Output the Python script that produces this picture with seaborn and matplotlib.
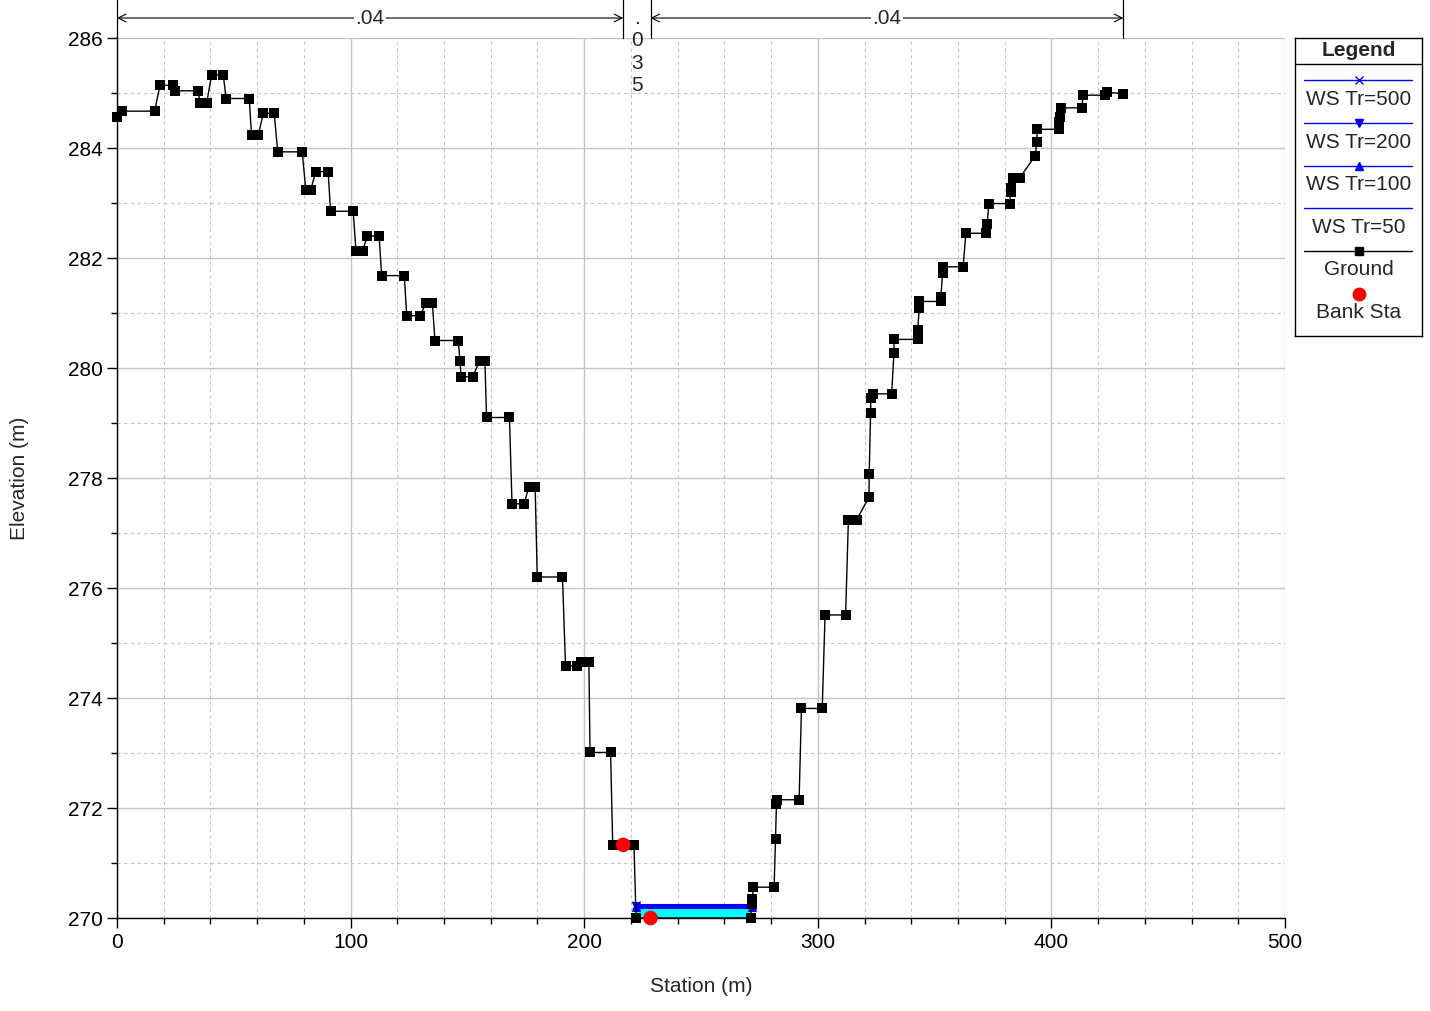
import numpy as np
import matplotlib
matplotlib.use("Agg")
import matplotlib.pyplot as plt
import seaborn as sns
from matplotlib.ticker import MultipleLocator

# ground survey points (station m, elevation m)
GROUND_STA = [0.0, 2.0, 16.1, 18.4, 23.8, 24.9, 34.8, 35.5, 38.4, 40.5, 45.5, 46.7,
              56.6, 57.6, 60.5, 62.6, 67.3, 68.8, 79.3, 80.8, 82.9, 85.1, 90.4, 91.4,
              101.1, 102.3, 105.1, 107.2, 112.2, 113.3, 123.0, 124.0, 129.7, 132.3, 135.0,
              136.1, 146.1, 146.8, 147.3, 152.3, 155.2, 157.5, 158.2, 168.0, 169.1, 174.3,
              176.3, 179.0, 179.9, 190.7, 192.0, 196.8, 198.6, 202.0, 202.5, 211.3, 212.2,
              216.7, 221.3, 222.2, 228.4, 271.2, 271.9, 272.0, 272.4, 281.3, 281.9, 282.3,
              282.4, 292.0, 293.0, 301.9, 303.1, 311.9, 313.1, 316.6, 321.9, 322.0, 322.6,
              322.7, 323.7, 331.6, 332.6, 332.7, 342.7, 342.8, 343.4, 343.5, 352.6, 352.7,
              353.4, 353.5, 362.2, 363.4, 372.2, 372.5, 373.2, 382.2, 382.5, 382.6, 383.5,
              386.5, 393.1, 393.7, 393.9, 403.1, 403.4, 403.7, 404.1, 412.9, 413.7, 423.0,
              424.0, 430.8]
GROUND_ELEV = [284.56, 284.67, 284.67, 285.14, 285.14, 285.04, 285.04, 284.82, 284.82,
               285.33, 285.33, 284.90, 284.90, 284.23, 284.23, 284.63, 284.63, 283.93,
               283.93, 283.24, 283.24, 283.57, 283.57, 282.85, 282.85, 282.13, 282.13,
               282.40, 282.40, 281.68, 281.68, 280.95, 280.95, 281.18, 281.18, 280.50,
               280.50, 280.13, 279.84, 279.84, 280.13, 280.13, 279.10, 279.10, 277.53,
               277.53, 277.84, 277.84, 276.20, 276.20, 274.58, 274.58, 274.65, 274.65,
               273.01, 273.01, 271.33, 271.33, 271.33, 270.00, 270.00, 270.00, 270.25,
               270.34, 270.56, 270.56, 271.44, 272.07, 272.15, 272.15, 273.81, 273.81,
               275.51, 275.51, 277.24, 277.24, 277.65, 278.07, 279.19, 279.45, 279.53,
               279.53, 280.27, 280.52, 280.52, 280.69, 281.09, 281.21, 281.21, 281.30,
               281.72, 281.84, 281.84, 282.45, 282.45, 282.62, 282.99, 282.99, 283.20,
               283.27, 283.46, 283.46, 283.86, 284.10, 284.34, 284.34, 284.48, 284.57,
               284.73, 284.73, 284.96, 284.96, 285.01, 284.99]

BANK_STA = [216.7, 228.4]
BANK_ELEV = [271.33, 270.00]

WS_LABELS = ["WS Tr=500", "WS Tr=200", "WS Tr=100", "WS Tr=50"]
WS_ELEV = [270.23, 270.21, 270.20, 270.18]
WS_MARKERS = ["x", "v", "^", None]
WS_STA = [222.1, 271.8]

N_VALUES = [".04", ".035", ".04"]
N_BREAKS = [0.0, 216.7, 228.4, 430.8]

sns.set_style("white")
plt.rcParams["font.family"] = ["Liberation Sans", "DejaVu Sans"]
FS = 15

W, H = 1430, 1011
fig = plt.figure(figsize=(W / 100, H / 100), dpi=100)
ax = fig.add_axes([117 / W, 1 - 918 / H, 1168 / W, 880 / H])

blue = "#0000ff"

# water fill below lowest profile
g_sta = np.array(GROUND_STA)
g_elev = np.array(GROUND_ELEV)
ax.fill_between(g_sta, g_elev, WS_ELEV[-1], where=g_elev < WS_ELEV[-1],
                interpolate=True, color="#00ffff", lw=0, zorder=2)

for lab, z, m in zip(WS_LABELS, WS_ELEV, WS_MARKERS):
    sns.lineplot(x=WS_STA, y=[z, z], ax=ax, color=blue, lw=1.5, marker=m,
                 markersize=6, markeredgecolor=blue, estimator=None, sort=False,
                 zorder=3, clip_on=False)

sns.lineplot(x=GROUND_STA, y=GROUND_ELEV, ax=ax, color="black", lw=1, marker="s",
             markersize=7, markeredgewidth=0, estimator=None, sort=False,
             zorder=4, clip_on=False)

sns.scatterplot(x=BANK_STA, y=BANK_ELEV, ax=ax, color="red", s=110,
                edgecolor="none", zorder=5, clip_on=False)

ax.set_xlim(0, 500)
ax.set_ylim(270, 286)
ax.xaxis.set_major_locator(MultipleLocator(100))
ax.xaxis.set_minor_locator(MultipleLocator(20))
ax.yaxis.set_major_locator(MultipleLocator(2))
ax.yaxis.set_minor_locator(MultipleLocator(1))
ax.grid(which="major", color="#c4c4c4", lw=1, ls="-")
ax.grid(which="minor", color="#c4c4c4", lw=0.8, ls=(0, (3, 3)))
ax.set_axisbelow(True)
for s in ["top", "right"]:
    ax.spines[s].set_visible(False)
for s in ["left", "bottom"]:
    ax.spines[s].set_color("black")
    ax.spines[s].set_linewidth(1)
ax.tick_params(which="major", direction="out", length=7, width=1, colors="black",
               labelsize=FS, left=True, bottom=True)
ax.tick_params(which="minor", direction="out", length=4, width=1, colors="black",
               left=True, bottom=True)
ax.set_xlabel("Station (m)", fontsize=FS, labelpad=18)
ax.set_ylabel("Elevation (m)", fontsize=FS, labelpad=28)

# Manning's n ranges above the plot
trans = ax.get_xaxis_transform()
y_arr = 1 + 20 / 880
y_top = 1 + 38 / 880
for b in N_BREAKS:
    ax.plot([b, b], [1, y_top], transform=trans, color="black", lw=0.9, clip_on=False)
for i, val in enumerate(N_VALUES):
    a, b = N_BREAKS[i], N_BREAKS[i + 1]
    mid = (a + b) / 2
    if b - a > 50:
        ax.annotate("", xy=(a, y_arr), xytext=(b, y_arr), xycoords=trans,
                    textcoords=trans, annotation_clip=False,
                    arrowprops=dict(arrowstyle="<->", color="black", lw=0.8,
                                    shrinkA=0, shrinkB=0, mutation_scale=14))
        ax.text(mid, y_arr, val, transform=trans, ha="center", va="center",
                fontsize=FS, bbox=dict(facecolor="white", edgecolor="none", pad=1))
    else:
        ax.text(mid, 1 + 29 / 880, "\n".join(val), transform=trans, ha="center",
                va="top", fontsize=FS, linespacing=1.22)

# legend box
lax = fig.add_axes([1295 / W, 1 - 336 / H, 127 / W, 298 / H])
lax.set_xlim(0, 127)
lax.set_ylim(298, 0)
lax.set_xticks([])
lax.set_yticks([])
for s in lax.spines.values():
    s.set_color("black")
    s.set_linewidth(1)
lax.text(63.5, 13, "Legend", ha="center", va="center", fontsize=FS, fontweight="bold")
lax.plot([0, 127], [26, 26], color="black", lw=1)
line_y = [42, 85, 128, 170, 213]
text_y = [62, 105, 147, 190, 232]
entries = list(zip(WS_LABELS, WS_MARKERS, [blue] * 4)) + [("Ground", "s", "black")]
for (lab, m, c), ly, ty in zip(entries, line_y, text_y):
    lax.plot([9, 117], [ly, ly], color=c, lw=1)
    if m:
        lax.plot([63.5], [ly], marker=m, color=c, markersize=6, markeredgecolor=c)
    lax.text(63.5, ty, lab, ha="center", va="center", fontsize=FS)
lax.plot([63.5], [256], marker="o", color="red", markersize=10, markeredgewidth=0)
lax.text(63.5, 275, "Bank Sta", ha="center", va="center", fontsize=FS)

fig.savefig("out.png", dpi=100)
